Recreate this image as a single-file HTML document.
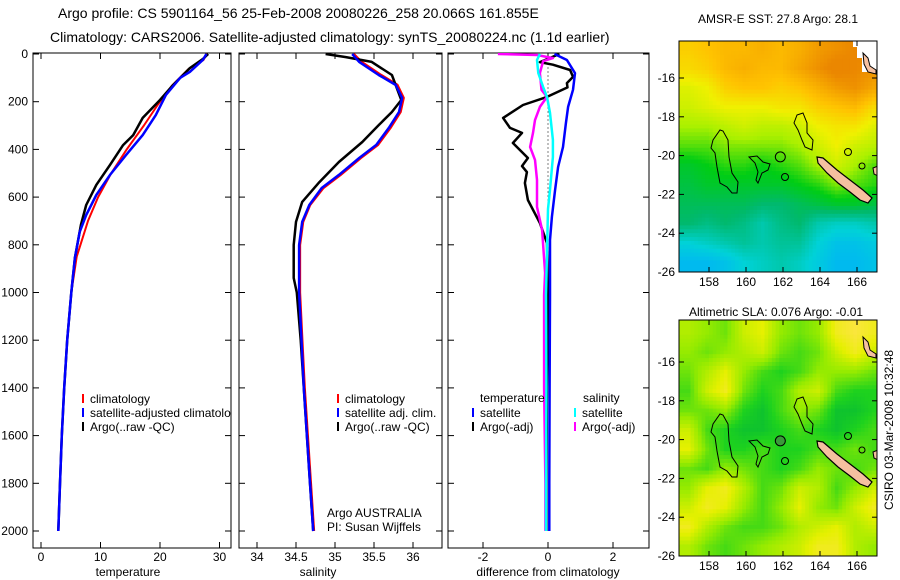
<!DOCTYPE html>
<html><head><meta charset="utf-8">
<style>
html,body{margin:0;padding:0;background:#fff;}
svg{display:block;font-family:"Liberation Sans",Arial,sans-serif;}
</style></head>
<body>
<svg id="fig" width="900" height="580" viewBox="0 0 900 580" xmlns="http://www.w3.org/2000/svg">
<defs>
<clipPath id="c1"><rect x="33" y="53" width="198" height="495"/></clipPath>
<clipPath id="c2"><rect x="239" y="53" width="203" height="495"/></clipPath>
<clipPath id="c3"><rect x="448" y="53" width="201" height="495"/></clipPath>
<clipPath id="cm1"><rect x="679" y="41" width="198" height="231"/></clipPath>
<clipPath id="cm2"><rect x="679" y="320" width="198" height="236"/></clipPath>
</defs>
<text x="58" y="18" font-size="14">Argo profile: CS 5901164_56 25-Feb-2008 20080226_258 20.066S 161.855E</text>
<text x="50" y="42" font-size="14">Climatology: CARS2006. Satellite-adjusted climatology: synTS_20080224.nc (1.1d earlier)</text>
<text x="778" y="23" font-size="12" text-anchor="middle">AMSR-E SST: 27.8 Argo: 28.1</text>
<text x="776" y="316" font-size="12" text-anchor="middle">Altimetric SLA: 0.076 Argo: -0.01</text>
<text transform="translate(893,430) rotate(-90)" font-size="12" text-anchor="middle">CSIRO 03-Mar-2008 10:32:48</text>
<g id="root"></g>
</svg>
<script>
// ---------- data ----------
const depthTicks=[0,200,400,600,800,1000,1200,1400,1600,1800,2000];
const tempTicks=[0,10,20,30];
const salTicks=[34,34.5,35,35.5,36];
const salTickLabels=["34","34.5","35","35.5","36"];
const diffTicks=[-2,0,2];
// temperature profiles [depth, value]
const tempClimDepth=[0,25,63,133,214,300,400,500,600,700,850,1000,1200,1400,1600,1800,2000];
const tempClim=[27.9,27.3,24.8,22.0,19.6,17.3,14.4,11.8,9.6,7.9,6.0,5.1,4.4,3.9,3.5,3.2,2.9];
const tempSatDepth=[0,25,75,100,172,256,340,423,507,591,675,746,855,1000,1200,1400,1600,1800,2000];
const tempSat=[27.8,27.2,25.0,23.4,21.0,19.3,17.1,14.3,11.6,9.3,7.6,6.5,5.7,5.1,4.4,3.9,3.5,3.2,2.9];
const tempArgoDepth=[0,21,59,130,193,268,340,382,465,549,633,717,855,1000,1200,1400,1600,1800,2000];
const tempArgo=[28.1,27.2,25.0,22.2,20.0,17.1,15.5,13.8,11.6,9.3,7.6,6.7,5.7,5.1,4.4,3.9,3.5,3.2,2.9];
// salinity profiles
const salClimDepth=[0,33,88,130,184,243,310,381,436,507,562,633,704,801,1000,1200,1400,1600,1800,2000];
const salClim=[35.24,35.34,35.59,35.8,35.88,35.84,35.71,35.55,35.33,35.07,34.85,34.68,34.59,34.55,34.55,34.58,34.61,34.65,34.69,34.73];
const salSatDepth=[0,33,88,130,184,243,310,381,436,507,562,633,704,801,1000,1200,1400,1600,1800,2000];
const salSat=[35.22,35.31,35.56,35.78,35.86,35.82,35.69,35.53,35.31,35.05,34.83,34.67,34.58,34.54,34.54,34.57,34.6,34.64,34.68,34.72];
const salArgoDepth=[0,13,33,88,193,243,298,369,453,537,620,704,801,939,1000,1200,1400,1600,1800,2000];
const salArgo=[34.88,35.14,35.47,35.73,35.85,35.73,35.56,35.35,35.05,34.8,34.58,34.5,34.47,34.47,34.51,34.56,34.6,34.64,34.68,34.72];
// differences
const dTSatDepth=[0,25,80,150,222,290,390,474,570,683,780,1010,1400,1800,2000];
const dTSat=[0.2,0.58,0.83,0.77,0.62,0.55,0.46,0.31,0.22,0.12,0.06,0.06,0.05,0.04,0.04];
const dTArgoDepth=[0,34,45,67,96,122,140,180,214,268,310,331,373,436,470,495,541,612,709,793,1010,1400,1800,2000];
const dTArgo=[0.35,-0.25,0.15,0.68,0.77,0.58,0.6,-0.03,-0.77,-1.38,-1.17,-0.8,-1.08,-0.62,-0.8,-0.65,-0.71,-0.62,-0.25,-0.03,0,-0.03,-0.05,-0.05];
const dSSatDepth=[0,25,80,138,180,247,360,432,570,650,1010,1400,1800,2000];
const dSSat=[-0.25,-0.34,-0.3,-0.15,-0.03,0.06,0.15,0.15,0.06,0,-0.06,-0.05,-0.06,-0.06];
const dSArgoDepth=[0,4,17,30,80,150,180,222,277,331,390,444,528,641,738,918,1010,1400,1800,2000];
const dSArgo=[-1.54,-0.34,0.15,-0.15,-0.25,-0.2,-0.03,-0.25,-0.4,-0.46,-0.55,-0.4,-0.34,-0.34,-0.18,-0.09,-0.12,-0.12,-0.08,-0.08];
// map grids (rows from lat -14.5 to -25.5, cols lon 156.9..166.9)
const mapLats=[-14.5,-15.5,-16.5,-17.5,-18.5,-19.5,-20.5,-21.5,-22.5,-23.5,-24.5,-25.5];
const mapLons=[156.9,157.9,158.9,159.9,160.9,161.9,162.9,163.9,164.9,165.9,166.9];
const sstGrid=[
[27.8,27.9,28.0,28.0,28.1,28.0,28.1,28.3,28.4,28.5,28.5],
[27.7,27.8,28.0,28.1,28.0,28.0,28.2,28.4,28.6,28.5,28.4],
[27.4,27.5,27.8,27.9,27.9,27.8,27.9,28.1,28.3,28.4,28.2],
[27.3,27.4,27.5,27.5,27.5,27.6,27.6,27.8,27.9,28.0,27.7],
[27.1,27.1,27.2,27.3,27.2,27.2,27.3,27.5,27.6,27.6,27.4],
[26.9,26.9,27.0,27.0,27.0,27.0,27.1,27.3,27.5,27.3,27.2],
[26.6,26.7,26.8,26.8,26.7,26.8,26.9,27.1,27.3,27.1,26.9],
[26.5,26.6,26.6,26.6,26.6,26.6,26.7,26.8,27.0,26.9,26.8],
[26.4,26.4,26.4,26.4,26.3,26.3,26.4,26.5,26.6,26.6,26.5],
[26.3,26.2,26.3,26.2,26.0,26.2,26.3,26.0,25.9,25.9,26.0],
[25.8,25.9,26.0,26.1,26.0,26.1,26.1,25.8,25.6,25.6,25.7],
[25.5,25.5,25.6,25.8,25.9,26.0,25.9,25.7,25.5,25.5,25.6]];
const slaGrid=[
[.09,.08,.07,.10,.11,.08,.07,.08,.12,.13,.12],
[.08,.07,.08,.09,.10,.07,.06,.07,.10,.12,.10],
[.07,.09,.11,.08,.06,.05,.06,.08,.08,.08,.07],
[.06,.10,.12,.07,.05,.06,.09,.10,.06,.05,.05],
[.07,.07,.08,.05,.04,.06,.08,.07,.04,.04,.05],
[.10,.06,.05,.04,.04,.05,.06,.05,.04,.05,.06],
[.11,.07,.05,.05,.06,.05,.05,.06,.06,.07,.06],
[.07,.06,.08,.07,.06,.05,.06,.08,.07,.06,.07],
[.08,.11,.12,.09,.06,.07,.10,.09,.06,.08,.10],
[.10,.12,.11,.08,.06,.08,.11,.08,.07,.10,.12],
[.12,.09,.07,.06,.06,.07,.09,.10,.11,.09,.10],
[.09,.07,.06,.07,.08,.09,.10,.12,.12,.09,.08]];
const lonTicks=[158,160,162,164,166];
const latTicks=[-16,-18,-20,-22,-24,-26];
const argoLon=161.855, argoLat=-20.066;

// ---------- helpers ----------
const NS="http://www.w3.org/2000/svg";
const root=document.getElementById('root');
function mk(tag,attrs,parent){const e=document.createElementNS(NS,tag);for(const k in attrs)e.setAttribute(k,attrs[k]);(parent||root).appendChild(e);return e;}
const yD=d=>54+d*0.2385;
const xT=t=>41+t*5.95;
const xS=s=>257+(s-34)*78;
const xDf=v=>548+v*32.5;
const panels=[{x:33,w:198,clip:'c1',n:'temperature'},{x:239,w:203,clip:'c2',n:'salinity'},{x:448,w:201,clip:'c3',n:'difference'}];

function frame(p){
  const g=mk('g',{});
  
  
  mk('rect',{x:p.x,y:53,width:p.w,height:495,fill:'none',stroke:'#000','stroke-width':1},g);
  depthTicks.forEach(d=>{
    mk('line',{x1:p.x,x2:p.x+6,y1:yD(d),y2:yD(d),stroke:'#000'},g);
    mk('line',{x1:p.x+p.w-6,x2:p.x+p.w,y1:yD(d),y2:yD(d),stroke:'#000'},g);
  });
  return g;
}
panels.forEach(frame);
depthTicks.forEach(d=>{
  const t=mk('text',{x:28,y:yD(d)+4,'font-size':12,'text-anchor':'end'});
  
  
  t.textContent=d;
});
function xticks(vals,labels,sx,n){
  vals.forEach((v,i)=>{
    const x=sx(v);
    mk('line',{x1:x,x2:x,y1:53,y2:59,stroke:'#000'});
    mk('line',{x1:x,x2:x,y1:542,y2:548,stroke:'#000'});
    const t=mk('text',{x:x,y:561,'font-size':12,'text-anchor':'middle'});
    
    
    t.textContent=labels[i];
  });
}
xticks(tempTicks,tempTicks.map(String),xT,'temperature');
xticks(salTicks,salTickLabels,xS,'salinity');
xticks(diffTicks,diffTicks.map(String),xDf,'difference');
[['temperature',128,'temperature-axis-title'],['salinity',318,'salinity-axis-title'],['difference from climatology',548,'difference-axis-title']].forEach(a=>{
  const t=mk('text',{x:a[1],y:576,'font-size':12,'text-anchor':'middle'});
  
  
  t.textContent=a[0];
});
// zero dotted line
const zl=mk('line',{x1:xDf(0),x2:xDf(0),y1:yD(40),y2:yD(900),stroke:'#000','stroke-dasharray':'1,3'});



function line(depths,vals,sx,color,w,clip,name){
  const pts=depths.map((d,i)=>sx(vals[i]).toFixed(1)+','+yD(d).toFixed(1)).join(' ');
  const p=mk('polyline',{points:pts,fill:'none',stroke:color,'stroke-width':w,'stroke-linejoin':'round','clip-path':'url(#'+clip+')'});
  
  
}
line(tempClimDepth,tempClim,xT,'#f00',2,'c1','temperature-climatology-line');
line(tempArgoDepth,tempArgo,xT,'#000',2.5,'c1','temperature-argo-line');
line(tempSatDepth,tempSat,xT,'#00f',2.5,'c1','temperature-satellite-line');
line(salClimDepth,salClim,xS,'#f00',2.5,'c2','salinity-climatology-line');
line(salArgoDepth,salArgo,xS,'#000',2.5,'c2','salinity-argo-line');
line(salSatDepth,salSat,xS,'#00f',2.5,'c2','salinity-satellite-line');
line(dTArgoDepth,dTArgo,xDf,'#000',2.5,'c3','temp-diff-argo-line');
line(dTSatDepth,dTSat,xDf,'#00f',2.5,'c3','temp-diff-satellite-line');
line(dSArgoDepth,dSArgo,xDf,'#f0f',2.5,'c3','sal-diff-argo-line');
line(dSSatDepth,dSSat,xDf,'#0ff',2.5,'c3','sal-diff-satellite-line');

// legends
function legend(x,y,color,label,name,clip){
  const g=mk('g',{'clip-path':clip?'url(#'+clip+')':''});
  
  
  mk('line',{x1:x,x2:x,y1:y-9,y2:y,stroke:color,'stroke-width':2},g);
  const t=mk('text',{x:x+7,y:y,'font-size':12},g);
  t.textContent=label;
}
legend(83,403,'#f00','climatology','legend-climatology','c1');
legend(83,417,'#00f','satellite-adjusted climatology','legend-satellite-adjusted','c1');
legend(83,431,'#000','Argo(..raw -QC)','legend-argo-raw','c1');
legend(338,403,'#f00','climatology','legend-sal-climatology','c2');
legend(338,417,'#00f','satellite adj. clim.','legend-sal-satellite','c2');
legend(338,431,'#000','Argo(..raw -QC)','legend-sal-argo','c2');
{const t=mk('text',{x:480,y:402,'font-size':12});t.textContent='temperature';}
{const t=mk('text',{x:583,y:402,'font-size':12});t.textContent='salinity';}
legend(473,417,'#00f','satellite','legend-diff-temp-satellite');
legend(473,431,'#000','Argo(-adj)','legend-diff-temp-argo');
legend(575,417,'#0ff','satellite','legend-diff-sal-satellite');
legend(575,431,'#f0f','Argo(-adj)','legend-diff-sal-argo');
{const t=mk('text',{x:327,y:517,'font-size':12});t.textContent='Argo AUSTRALIA';}
{const t=mk('text',{x:327,y:531,'font-size':12});t.textContent='PI: Susan Wijffels';}

// ---------- maps ----------
function interp(stops,v){
  if(v<=stops[0][0])return stops[0][1];
  for(let i=1;i<stops.length;i++){if(v<=stops[i][0]){const a=stops[i-1],b=stops[i],f=(v-a[0])/(b[0]-a[0]);return a[1].map((c,k)=>Math.round(c+(b[1][k]-c)*f));}}
  return stops[stops.length-1][1];
}
const sstStops=[[25.3,[0,170,255]],[25.8,[0,210,215]],[26.3,[0,185,110]],[26.7,[0,205,20]],[27.1,[170,240,0]],[27.5,[240,240,0]],[27.9,[255,195,0]],[28.5,[235,135,0]]];
const slaStops=[[0.03,[0,180,60]],[0.05,[30,210,30]],[0.08,[150,235,0]],[0.11,[230,240,0]],[0.13,[250,230,60]]];
function sample(grid,lon,lat){
  let fx=(lon-mapLons[0]),fy=(mapLats[0]-lat);
  fx=Math.max(0,Math.min(mapLons.length-1.001,fx));fy=Math.max(0,Math.min(mapLats.length-1.001,fy));
  const i=Math.floor(fy),j=Math.floor(fx),a=fy-i,b=fx-j;
  return grid[i][j]*(1-a)*(1-b)+grid[i][j+1]*(1-a)*b+grid[i+1][j]*a*(1-b)+grid[i+1][j+1]*a*b;
}
function drawMap(top,height,lat16y,grid,stops,clip,name,white){
  const xL=l=>709+(l-158)*18.5, yL=l=>lat16y+(-16-l)*19.4;
  const g=mk('g',{'clip-path':'url(#'+clip+')'});
  
  
  const step=0.2;
  for(let lat=-13.6;lat>-26.4;lat-=step){
    for(let lon=156.4;lon<167.6;lon+=step){
      const v=sample(grid,lon+step/2,lat-step/2);
      const c=interp(stops,v);
      mk('rect',{x:xL(lon).toFixed(1),y:yL(lat).toFixed(1),width:(step*18.5+0.6).toFixed(1),height:(step*19.4+0.6).toFixed(1),fill:'rgb('+c.join(',')+')'},g);
    }
  }
  if(white){mk('path',{d:'M853,'+top+' H877 V72 H862 V58 H857 V47 H853 Z',fill:'#fff'},g);}
  // land
  const land=mk('g',{transform:'translate(0,'+(lat16y-78)+')'},g);
  
  
  const sty={fill:'none',stroke:'#000','stroke-width':1};
  mk('polygon',Object.assign({points:'720,130 723,131 728,140 729,157 732,173 738,182 737,193 732,193 727,187 720,183 717,167 715,153 711,148 713,140'},sty),land);
  mk('polygon',Object.assign({points:'749,157 757,156 763,162 770,164 768,170 762,173 758,183 756,180 758,172 755,163'},sty),land);
  mk('circle',Object.assign({cx:785,cy:177,r:3.5},sty),land);
  mk('polygon',Object.assign({points:'797,115 803,113 807,123 807,133 813,140 812,150 805,147 802,140 798,130 794,123'},sty),land);
  mk('circle',Object.assign({cx:848,cy:152,r:3.5},sty),land);
  mk('circle',Object.assign({cx:862,cy:166,r:3},sty),land);
  mk('polygon',{points:'817,157 823,158 837,170 850,180 863,190 872,198 868,203 860,200 850,192 838,183 827,173 818,163',fill:'#f5c0a0',stroke:'#000','stroke-width':1.2},land);
  mk('polygon',{points:'863,53 868,58 870,66 876,70 876,74 868,72 864,64',fill:'#f5c0a0',stroke:'#000','stroke-width':1},land);
  mk('polygon',{points:'873,168 878,166 878,176 874,174',fill:'#f5c0a0',stroke:'#000','stroke-width':1},land);
  const m=mk('circle',{cx:xL(argoLon),cy:yL(argoLat),r:5,fill:white?'none':'#3a9a3a',stroke:'#000','stroke-width':1},g);
  
  
  const fr=mk('rect',{x:679,y:top,width:198,height:height,fill:'none',stroke:'#000'});
  
  
  lonTicks.forEach(l=>{
    const x=xL(l);
    mk('line',{x1:x,x2:x,y1:top,y2:top+5,stroke:'#000'});
    mk('line',{x1:x,x2:x,y1:top+height-5,y2:top+height,stroke:'#000'});
    const t=mk('text',{x:x,y:top+height+14,'font-size':12,'text-anchor':'middle'});
    
    
    t.textContent=l;
  });
  latTicks.forEach(l=>{
    const y=yL(l);
    if(y>top+height+1)return;
    mk('line',{x1:679,x2:684,y1:y,y2:y,stroke:'#000'});
    mk('line',{x1:872,x2:877,y1:y,y2:y,stroke:'#000'});
    const t=mk('text',{x:675,y:y+4,'font-size':12,'text-anchor':'end'});
    
    
    t.textContent=l;
  });
}
drawMap(41,231,78,sstGrid,sstStops,'cm1','sst-map',true);
drawMap(320,236,362,slaGrid,slaStops,'cm2','sla-map',false);
</script>
</body></html>
